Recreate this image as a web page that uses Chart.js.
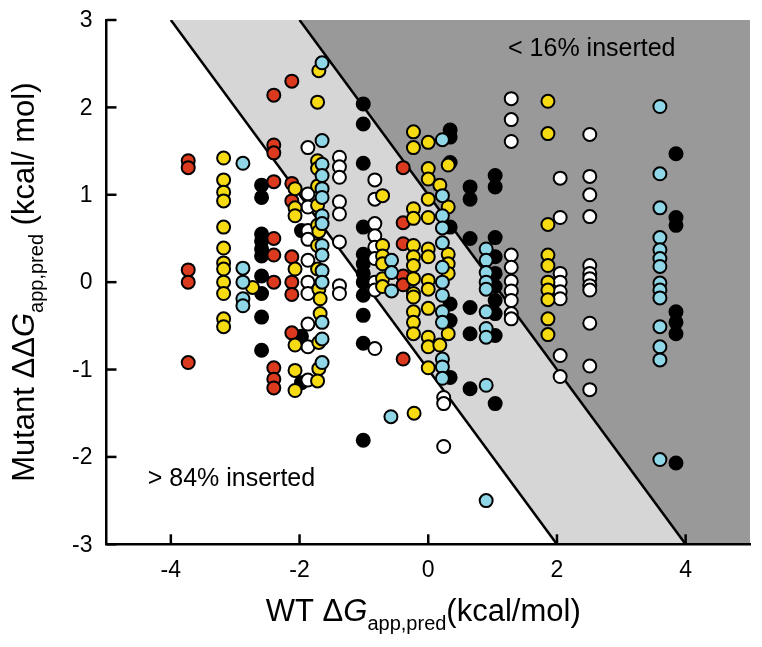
<!DOCTYPE html>
<html><head><meta charset="utf-8">
<script src="https://cdn.jsdelivr.net/npm/chart.js@4/dist/chart.umd.min.js"></script>
<style>html,body{margin:0;padding:0;background:#fff}#wrap{width:762px;height:647px}</style>
</head><body><div id="wrap"><canvas id="c" width="762" height="647"></canvas></div>
<script>
// ---- axis / tick definitions ----
const xTickValues = [-4, -2, 0, 2, 4];
const yTickValues = [-3, -2, -1, 0, 1, 2, 3];
// boundary lines: WT dG + Mutant ddG = offset
const bandOffsets = [-1, 1];

// ---- data points [WT dG, Mutant ddG] by colour class ----
const redPts = [
 [-3.73,1.39],[-3.73,1.31],[-3.73,0.14],[-3.73,0.0],[-3.73,-0.92],
 [-2.40,2.14],[-2.40,1.57],[-2.40,1.48],[-2.40,1.15],[-2.40,0.50],[-2.40,0.31],[-2.40,0.0],[-2.40,-0.98],[-2.40,-1.11],[-2.40,-1.21],
 [-2.12,2.30],[-2.12,1.13],[-2.12,0.93],[-2.12,0.29],[-2.12,0.0],[-2.12,-0.14],[-2.12,-0.58],
 [-0.39,1.31],[-0.39,0.68],[-0.39,0.44],[-0.39,0.07],[-0.39,-0.03],[-0.39,-0.88]
];
const yellowPts = [
 [-3.18,1.42],[-3.18,1.17],[-3.18,1.03],[-3.18,0.93],[-3.18,0.63],[-3.18,0.39],[-3.18,0.22],[-3.18,0.15],[-3.18,0.0],[-3.18,-0.13],[-3.18,-0.42],[-3.18,-0.51],
 [-2.73,-0.06],
 [-2.07,1.07],[-2.07,0.85],[-2.07,0.76],[-2.07,0.15],[-2.07,-0.72],[-2.07,-1.01],[-2.07,-1.24],
 [-1.70,2.42],[-1.72,2.06],[-1.72,1.39],[-1.72,1.30],[-1.72,1.10],[-1.72,0.88],[-1.72,0.65],[-1.70,0.58],[-1.72,0.42],[-1.72,0.15],[-1.70,-0.08],[-1.68,-0.19],[-1.68,-0.36],[-1.70,-0.69],[-1.70,-0.99],[-1.72,-1.13],
 [-0.71,0.99],[-0.71,0.42],[-0.71,0.30],[-0.71,0.21],[-0.71,0.04],[-0.71,-0.05],
 [-0.23,1.72],[-0.23,1.54],[-0.23,0.84],[-0.23,0.73],[-0.23,0.42],[-0.23,0.29],[-0.23,0.19],[-0.23,0.04],[-0.23,-0.13],[-0.23,-0.17],[-0.23,-0.34],[-0.23,-0.46],[-0.23,-0.59],[-0.22,-1.50],
 [0.0,1.60],[0.0,1.30],[0.0,1.18],[0.0,0.95],[0.0,0.74],[0.0,0.38],[0.0,0.29],[0.0,0.02],[0.0,-0.08],[0.0,-0.30],[0.0,-0.63],[0.0,-0.74],[0.0,-0.98],
 [0.18,1.11],[0.18,-0.72],
 [0.31,1.34],[0.31,0.86],[0.31,0.32],[0.31,0.21],[0.31,0.10],[0.31,-0.59],
 [1.86,2.07],[1.86,1.70],[1.86,0.66],[1.86,0.31],[1.86,0.19],[1.86,0.0],[1.86,-0.09],[1.86,-0.20],[1.86,-0.42],[1.86,-0.60]
];
const cyanPts = [
 [-2.88,1.36],[-2.88,0.16],[-2.88,0.0],[-2.88,-0.19],[-2.88,-0.27],
 [-1.65,2.51],[-1.65,1.62],[-1.65,1.35],[-1.65,1.22],[-1.65,1.07],[-1.65,0.97],[-1.65,0.76],[-1.65,0.67],[-1.65,0.42],[-1.65,0.31],[-1.65,0.13],[-1.65,0.0],[-1.65,-0.46],[-1.65,-0.65],[-1.65,-0.92],
 [-0.57,0.25],[-0.57,0.11],[-0.57,-0.10],[-0.58,-1.54],
 [0.22,1.63],[0.22,0.99],[0.22,0.76],[0.22,0.62],[0.22,0.45],[0.22,0.17],[0.22,0.0],[0.22,-0.15],[0.22,-0.34],[0.22,-0.46],[0.22,-0.88],[0.22,-0.97],[0.22,-1.10],
 [0.90,0.38],[0.90,0.25],[0.90,0.11],[0.90,0.0],[0.90,-0.08],[0.90,-0.34],[0.90,-0.53],[0.90,-0.63],[0.90,-1.18],[0.90,-2.50],
 [3.60,2.01],[3.60,1.24],[3.60,0.85],[3.60,0.51],[3.60,0.37],[3.60,0.27],[3.60,0.18],[3.60,-0.01],[3.60,-0.09],[3.60,-0.18],[3.60,-0.51],[3.60,-0.74],[3.60,-0.89],[3.60,-2.03]
];
const blackPts = [
 [-2.59,1.11],[-2.59,0.97],[-2.59,0.55],[-2.59,0.47],[-2.59,0.38],[-2.59,0.30],[-2.59,0.07],[-2.59,-0.13],[-2.59,-0.40],[-2.59,-0.78],
 [-1.97,0.59],[-1.97,-0.62],[-1.97,-1.15],
 [-1.01,2.04],[-1.01,1.81],[-1.01,1.36],[-1.01,0.63],[-1.01,0.32],[-1.01,0.21],[-1.01,0.10],[-1.01,0.0],[-1.01,-0.15],[-1.01,-0.38],[-1.01,-0.70],[-1.01,-1.81],
 [0.34,1.74],[0.34,1.66],[0.34,1.37],[0.34,0.63],[0.34,-0.25],[0.34,-0.44],[0.34,-1.09],
 [0.65,1.09],[0.65,0.95],[0.65,0.50],[0.65,-0.29],[0.65,-0.59],[0.65,-1.22],
 [1.04,1.22],[1.04,1.09],[1.04,0.51],[1.04,0.29],[1.04,0.10],[1.04,-0.05],[1.04,-0.21],[1.04,-0.36],[1.04,-0.61],[1.04,-1.39],
 [3.85,1.47],[3.85,0.74],[3.85,0.65],[3.85,-0.34],[3.85,-0.46],[3.85,-0.59],[3.85,-2.07]
];
const whitePts = [
 [-1.87,1.54],[-1.87,1.01],[-1.87,0.86],[-1.87,0.59],[-1.87,0.49],[-1.87,0.25],[-1.87,0.0],[-1.87,-0.13],[-1.87,-0.48],[-1.87,-0.74],[-1.87,-1.12],
 [-1.38,1.43],[-1.38,1.32],[-1.38,1.20],[-1.38,0.92],[-1.38,0.78],[-1.38,0.46],[-1.38,-0.04],[-1.38,-0.13],
 [-0.83,1.17],[-0.83,0.95],[-0.83,0.67],[-0.83,0.53],[-0.83,0.40],[-0.83,0.27],[-0.83,0.0],[-0.83,-0.09],[-0.83,-0.76],
 [0.24,-1.32],[0.24,-1.39],[0.24,-1.88],
 [1.29,2.10],[1.29,1.86],[1.29,1.61],[1.29,0.31],[1.29,0.17],[1.29,0.01],[1.29,-0.10],[1.29,-0.21],[1.29,-0.36],[1.29,-0.42],
 [2.05,1.19],[2.05,0.74],[2.05,0.10],[2.05,0.0],[2.05,-0.11],[2.05,-0.19],[2.05,-0.84],[2.05,-1.08],
 [2.51,1.69],[2.51,1.21],[2.51,1.00],[2.51,0.75],[2.51,0.19],[2.51,0.10],[2.51,0.04],[2.51,-0.04],[2.51,-0.09],[2.51,-0.47],[2.51,-0.96],[2.51,-1.23]
];

// ---- text ----
const regionLabels = [
  {text: '< 16% inserted', x: 1.24, y: 2.59},
  {text: '> 84% inserted', x: -4.36, y: -2.33}
];

const FONT = "'Liberation Sans', Arial, Helvetica, sans-serif";
const toXY = pts => pts.map(p => ({x: p[0], y: p[1]}));
const ds = (label, pts, color) => ({
  label, data: toXY(pts), backgroundColor: color, borderColor: '#000',
  borderWidth: 2, pointRadius: 6.5, pointHoverRadius: 6.5
});

const decor = {
  id: 'decor',
  beforeDraw(chart) {
    const {ctx, chartArea: a, scales: {x, y}} = chart;
    const X = v => x.getPixelForValue(v), Y = v => y.getPixelForValue(v);
    const yT = y.max, yB = y.min, xR = x.max;
    const [lo, hi] = bandOffsets;
    ctx.save();
    ctx.beginPath(); ctx.rect(a.left, a.top, a.right - a.left, a.bottom - a.top); ctx.clip();
    ctx.fillStyle = '#999999';
    ctx.beginPath();
    ctx.moveTo(X(hi - yT), Y(yT)); ctx.lineTo(X(xR + 5), Y(yT)); ctx.lineTo(X(xR + 5), Y(yB)); ctx.lineTo(X(hi - yB), Y(yB));
    ctx.closePath(); ctx.fill();
    ctx.fillStyle = '#d6d6d6';
    ctx.beginPath();
    ctx.moveTo(X(lo - yT), Y(yT)); ctx.lineTo(X(hi - yT), Y(yT)); ctx.lineTo(X(hi - yB), Y(yB)); ctx.lineTo(X(lo - yB), Y(yB));
    ctx.closePath(); ctx.fill();
    ctx.strokeStyle = '#000'; ctx.lineWidth = 2.5;
    for (const c of bandOffsets) {
      ctx.beginPath(); ctx.moveTo(X(c - yT), Y(yT)); ctx.lineTo(X(c - yB), Y(yB)); ctx.stroke();
    }
    ctx.restore();
    // inward tick marks
    ctx.save();
    ctx.strokeStyle = '#000'; ctx.lineWidth = 2.5;
    for (const v of xTickValues) { ctx.beginPath(); ctx.moveTo(X(v), a.bottom); ctx.lineTo(X(v), a.bottom - 10); ctx.stroke(); }
    for (const v of yTickValues) { ctx.beginPath(); ctx.moveTo(a.left, Y(v)); ctx.lineTo(a.left + 10, Y(v)); ctx.stroke(); }
    ctx.restore();
  },
  afterDraw(chart) {
    const {ctx, chartArea: a, scales: {x, y}} = chart;
    const X = v => x.getPixelForValue(v), Y = v => y.getPixelForValue(v);
    ctx.save();
    ctx.fillStyle = '#000';
    // tick labels
    ctx.font = '23px ' + FONT;
    ctx.textAlign = 'center'; ctx.textBaseline = 'alphabetic';
    for (const v of xTickValues) ctx.fillText(String(v), X(v), a.bottom + 33);
    ctx.textAlign = 'right'; ctx.textBaseline = 'middle';
    for (const v of yTickValues) ctx.fillText(String(v), a.left - 14, Y(v) + 1);
    // region labels
    ctx.textBaseline = 'alphabetic';
    ctx.textAlign = 'left';
    ctx.font = '25px ' + FONT;
    for (const l of regionLabels) ctx.fillText(l.text, X(l.x), Y(l.y));
    // titles
    const drawRich = (parts, cx, cy) => {
      let w = 0;
      for (const p of parts) { ctx.font = p.font; p.w = ctx.measureText(p.t).width; w += p.w; }
      let px = cx - w / 2;
      for (const p of parts) { ctx.font = p.font; ctx.fillText(p.t, px, cy + (p.dy || 0)); px += p.w; }
    };
    const main = '31px ' + FONT, ital = 'italic 31px ' + FONT, sub = '20px ' + FONT;
    drawRich([
      {t: 'WT \u0394', font: main}, {t: 'G', font: ital}, {t: 'app,pred', font: sub, dy: 9}, {t: '(kcal/mol)', font: main}
    ], (a.left + a.right) / 2 - 5, 621);
    ctx.save();
    ctx.translate(34, (a.top + a.bottom) / 2);
    ctx.rotate(-Math.PI / 2);
    drawRich([
      {t: 'Mutant \u0394\u0394', font: main}, {t: 'G', font: ital}, {t: 'app,pred', font: sub, dy: 9}, {t: ' (kcal/ mol)', font: main}
    ], 0, 0);
    ctx.restore();
    ctx.restore();
  }
};

new Chart(document.getElementById('c'), {
  type: 'scatter',
  data: {datasets: [
    ds('cyan', cyanPts, '#8fd6e6'),
    ds('yellow', yellowPts, '#f6da12'),
    ds('red', redPts, '#dc3a1f'),
    ds('white', whitePts, '#ffffff'),
    ds('black', blackPts, '#000000')
  ]},
  plugins: [decor],
  options: {
    responsive: false, animation: false, devicePixelRatio: 1,
    layout: {autoPadding: false, padding: {top: 20, right: 12, left: 0, bottom: 0}},
    plugins: {legend: {display: false}, tooltip: {enabled: false}},
    scales: {
      x: {
        type: 'linear', min: -5, max: 5,
        afterBuildTicks: s => { s.ticks = xTickValues.map(v => ({value: v})); },
        afterFit: s => { s.height = 102.7; s.paddingLeft = 0; s.paddingRight = 0; s.paddingTop = 0; s.paddingBottom = 0; },
        grid: {display: false, drawTicks: false},
        border: {display: true, color: '#000', width: 2.5},
        ticks: {display: false}
      },
      y: {
        type: 'linear', min: -3, max: 3,
        afterBuildTicks: s => { s.ticks = yTickValues.map(v => ({value: v})); },
        afterFit: s => { s.width = 106.5; s.paddingLeft = 0; s.paddingRight = 0; s.paddingTop = 0; s.paddingBottom = 0; },
        grid: {display: false, drawTicks: false},
        border: {display: true, color: '#000', width: 2.5},
        ticks: {display: false}
      }
    }
  }
});
</script>
</body></html>
